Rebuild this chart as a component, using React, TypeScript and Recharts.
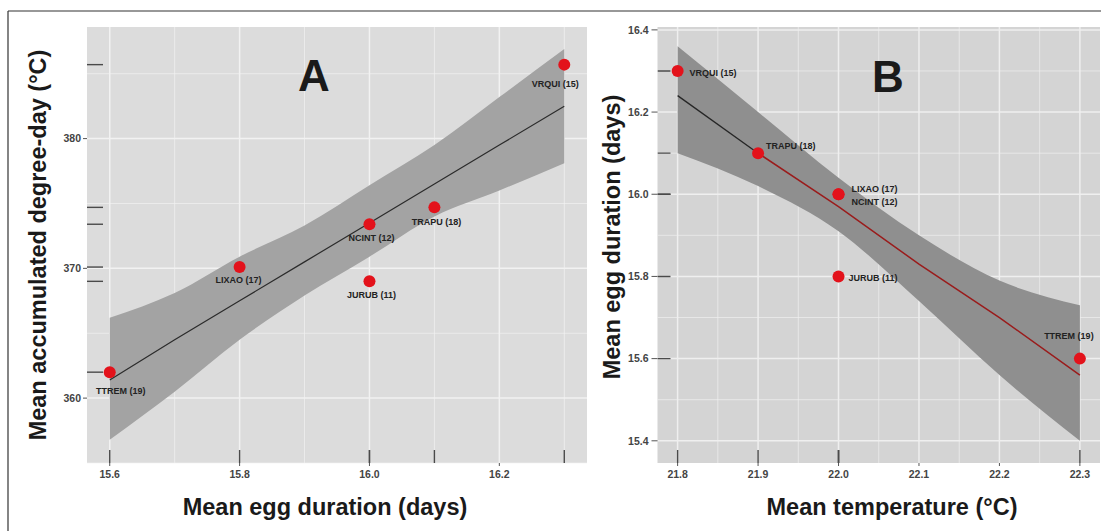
import React from 'react'
import { ComposedChart, XAxis, YAxis, CartesianGrid, Area, Line, Scatter } from 'recharts'

// panel A: egg duration vs accumulated degree-day
const sitesA = ['TTREM (19)', 'LIXAO (17)', 'JURUB (11)', 'NCINT (12)', 'TRAPU (18)', 'VRQUI (15)']
const eggDurA = [15.6, 15.8, 16.0, 16.0, 16.1, 16.3]
const degreeDayA = [362.0, 370.1, 369.0, 373.4, 374.7, 385.7]

const bandXA = [15.6, 15.7, 15.8, 15.9, 16.0, 16.1, 16.2, 16.3]
const fitA = [361.4, 364.5, 367.5, 370.5, 373.5, 376.5, 379.5, 382.5]
const loA = [356.8, 360.5, 364.5, 367.9, 370.9, 374.0, 376.0, 378.1]
const hiA = [366.2, 368.1, 370.9, 373.3, 376.4, 379.5, 383.2, 386.9]

const xTicksA = [15.6, 15.8, 16.0, 16.2]
const xMinorA = [15.7, 15.9, 16.1, 16.3]
const yTicksA = [360, 370, 380]
const yMinorA = [355, 365, 375, 385]

// panel B: temperature vs egg duration
const sitesB = ['VRQUI (15)', 'TRAPU (18)', 'LIXAO (17)', 'NCINT (12)', 'JURUB (11)', 'TTREM (19)']
const tempB = [21.8, 21.9, 22.0, 22.0, 22.0, 22.3]
const eggDurB = [16.3, 16.1, 16.0, 16.0, 15.8, 15.6]

const bandXB = [21.8, 21.9, 22.0, 22.1, 22.2, 22.3]
const fitB = [16.24, 16.1, 15.97, 15.83, 15.7, 15.56]
const loB = [16.1, 16.02, 15.91, 15.74, 15.56, 15.4]
const hiB = [16.36, 16.2, 16.04, 15.9, 15.79, 15.73]

const xTicksB = [21.8, 21.9, 22.0, 22.1, 22.2, 22.3]
const xMinorB = [21.85, 21.95, 22.05, 22.15, 22.25]
const yTicksB = [15.4, 15.6, 15.8, 16.0, 16.2, 16.4]
const yMinorB = [15.5, 15.7, 15.9, 16.1, 16.3]

const FONT = '"Liberation Sans", Arial, Helvetica, sans-serif'
const RED = '#e3121b'
const tickStyle = { fontSize: 10.5, fontWeight: 'bold', fill: '#444', fontFamily: FONT }

// label placement relative to each dot
const labelPosA: Record<string, { dx: number; dy: number; anchor: string }> = {
  'VRQUI (15)': { dx: -9, dy: 19, anchor: 'middle' },
  'TRAPU (18)': { dx: 2, dy: 15, anchor: 'middle' },
  'NCINT (12)': { dx: 2, dy: 14, anchor: 'middle' },
  'LIXAO (17)': { dx: -1, dy: 13, anchor: 'middle' },
  'JURUB (11)': { dx: 2, dy: 14, anchor: 'middle' },
  'TTREM (19)': { dx: 11, dy: 19, anchor: 'middle' },
}
const labelPosB: Record<string, { dx: number; dy: number; anchor: string }> = {
  'VRQUI (15)': { dx: 12, dy: 2, anchor: 'start' },
  'TRAPU (18)': { dx: 8, dy: -7, anchor: 'start' },
  'LIXAO (17)': { dx: 13, dy: -5, anchor: 'start' },
  'NCINT (12)': { dx: 13, dy: 8, anchor: 'start' },
  'JURUB (11)': { dx: 10, dy: 2, anchor: 'start' },
  'TTREM (19)': { dx: -11, dy: -23, anchor: 'middle' },
}

const toPoints = (xs: number[], ys: number[], names: string[]) =>
  xs.map((x, i) => ({ x, y: ys[i], name: names[i] }))

const dotShape = (pos: Record<string, { dx: number; dy: number; anchor: string }>) => (props: any) => {
  const { cx, cy, payload } = props
  const o = pos[payload.name]
  return (
    <g>
      <circle cx={cx} cy={cy} r={6} fill={RED} />
      <text
        x={cx + o.dx}
        y={cy + o.dy}
        textAnchor={o.anchor as any}
        dominantBaseline="central"
        fontSize={9}
        fontWeight="bold"
        fill="#222"
        fontFamily={FONT}
      >
        {payload.name}
      </text>
    </g>
  )
}

// rug marks drawn from the panel edge
const xRug = (len: number) => (props: any) => (
  <line x1={props.cx} x2={props.cx} y1={props.cy + 3} y2={props.cy - len} stroke="#4a4a4a" strokeWidth={1.4} />
)
const yRug = (len: number) => (props: any) => (
  <line x1={props.cx} x2={props.cx + len} y1={props.cy} y2={props.cy} stroke="#4a4a4a" strokeWidth={1.4} />
)

const domA = { x: [15.565, 16.335], y: [355, 388.6] }
const domB = { x: [21.775, 22.325], y: [15.346, 16.407] }

const PanelA = () => {
  const data = bandXA.map((x, i) => ({ x, band: [loA[i], hiA[i]], fit: fitA[i] }))
  const pts = toPoints(eggDurA, degreeDayA, sitesA)
  const rugX = eggDurA.map((x) => ({ x, y: domA.y[0] }))
  const rugY = degreeDayA.map((y) => ({ x: domA.x[0], y }))
  return (
    <ComposedChart width={600} height={531} data={data} margin={{ top: 27, right: 13, bottom: 0, left: 0 }}>
      <CartesianGrid fill="#dcdcdc" stroke="#f2f2f2" strokeWidth={0.7} verticalValues={xMinorA} horizontalValues={yMinorA} />
      <CartesianGrid stroke="#f2f2f2" strokeWidth={1.5} verticalValues={xTicksA} horizontalValues={yTicksA} />
      <XAxis
        dataKey="x"
        type="number"
        domain={domA.x}
        ticks={xTicksA}
        interval={0}
        allowDataOverflow
        height={68}
        axisLine={false}
        tickSize={3}
        tickMargin={5}
        tickLine={{ stroke: '#555' }}
        tick={tickStyle}
        tickFormatter={(v: number) => v.toFixed(1)}
      />
      <YAxis
        dataKey="y"
        type="number"
        domain={domA.y}
        ticks={yTicksA}
        interval={0}
        allowDataOverflow
        width={87}
        axisLine={false}
        tickSize={4}
        tickMargin={2}
        tickLine={{ stroke: '#555' }}
        tick={tickStyle}
      />
      <Area dataKey="band" type="monotone" fill="#a3a3a3" fillOpacity={1} stroke="none" isAnimationActive={false} />
      <Line dataKey="fit" type="linear" stroke="#2b2b2b" strokeWidth={1.2} dot={false} isAnimationActive={false} />
      <Scatter data={rugX} dataKey="y" shape={xRug(13)} isAnimationActive={false} />
      <Scatter data={rugY} dataKey="y" shape={yRug(16)} isAnimationActive={false} />
      <Scatter data={pts} dataKey="y" shape={dotShape(labelPosA)} isAnimationActive={false} />
    </ComposedChart>
  )
}

const PanelB = () => {
  const data = bandXB.map((x, i) => ({
    x,
    band: [loB[i], hiB[i]],
    fitDark: i <= 1 ? fitB[i] : null,
    fitRed: i >= 1 ? fitB[i] : null,
  }))
  const pts = toPoints(tempB, eggDurB, sitesB)
  const rugX = tempB.map((x) => ({ x, y: domB.y[0] }))
  const rugY = eggDurB.map((y) => ({ x: domB.x[0], y }))
  return (
    <ComposedChart width={501} height={531} data={data} margin={{ top: 27, right: 1, bottom: 0, left: 0 }}>
      <CartesianGrid fill="#d4d4d4" stroke="#efefef" strokeWidth={0.7} verticalValues={xMinorB} horizontalValues={yMinorB} />
      <CartesianGrid stroke="#efefef" strokeWidth={1.5} verticalValues={xTicksB} horizontalValues={yTicksB} />
      <XAxis
        dataKey="x"
        type="number"
        domain={domB.x}
        ticks={xTicksB}
        interval={0}
        allowDataOverflow
        height={68}
        axisLine={false}
        tickSize={3}
        tickMargin={5}
        tickLine={{ stroke: '#555' }}
        tick={tickStyle}
        tickFormatter={(v: number) => v.toFixed(1)}
      />
      <YAxis
        dataKey="y"
        type="number"
        domain={domB.y}
        ticks={yTicksB}
        interval={0}
        allowDataOverflow
        width={57.5}
        axisLine={false}
        tickSize={6}
        tickMargin={3}
        tickLine={{ stroke: '#555' }}
        tick={tickStyle}
        tickFormatter={(v: number) => v.toFixed(1)}
      />
      <Area dataKey="band" type="monotone" fill="#8f8f8f" fillOpacity={1} stroke="none" isAnimationActive={false} />
      <Line dataKey="fitDark" type="linear" stroke="#262626" strokeWidth={1.3} dot={false} isAnimationActive={false} />
      <Line dataKey="fitRed" type="linear" stroke="#9a1c1c" strokeWidth={1.5} dot={false} isAnimationActive={false} />
      <Scatter data={rugX} dataKey="y" shape={xRug(13)} isAnimationActive={false} />
      <Scatter data={rugY} dataKey="y" shape={yRug(13)} isAnimationActive={false} />
      <Scatter data={pts} dataKey="y" shape={dotShape(labelPosB)} isAnimationActive={false} />
    </ComposedChart>
  )
}

const titleStyle = { fontFamily: FONT, fontWeight: 'bold', fill: '#1a1a1a' } as const

export default function App() {
  return (
    <div style={{ position: 'absolute', left: 0, top: 0, width: 1101, height: 531, background: '#fff', overflow: 'hidden' }}>
      <div style={{ position: 'absolute', left: 0, top: 0 }}>
        <PanelA />
      </div>
      <div style={{ position: 'absolute', left: 600, top: 0 }}>
        <PanelB />
      </div>
      <svg width={1101} height={531} style={{ position: 'absolute', left: 0, top: 0, pointerEvents: 'none' }}>
        <line x1={8} y1={11} x2={1101} y2={11} stroke="#333" strokeWidth={1.2} />
        <line x1={8} y1={11} x2={8} y2={531} stroke="#333" strokeWidth={1.2} />
        <text x={314} y={75} textAnchor="middle" dominantBaseline="central" fontSize={44} {...titleStyle}>A</text>
        <text x={888} y={76} textAnchor="middle" dominantBaseline="central" fontSize={44} {...titleStyle}>B</text>
        <text x={38} y={245} transform="rotate(-90 38 245)" textAnchor="middle" dominantBaseline="central" fontSize={23.5} {...titleStyle}>
          Mean accumulated degree-day (°C)
        </text>
        <text x={612} y={237} transform="rotate(-90 612 237)" textAnchor="middle" dominantBaseline="central" fontSize={23.5} {...titleStyle}>
          Mean egg duration (days)
        </text>
        <text x={325} y={507} textAnchor="middle" dominantBaseline="central" fontSize={23.5} {...titleStyle}>
          Mean egg duration (days)
        </text>
        <text x={892} y={507} textAnchor="middle" dominantBaseline="central" fontSize={23.5} {...titleStyle}>
          Mean temperature (°C)
        </text>
      </svg>
    </div>
  )
}
